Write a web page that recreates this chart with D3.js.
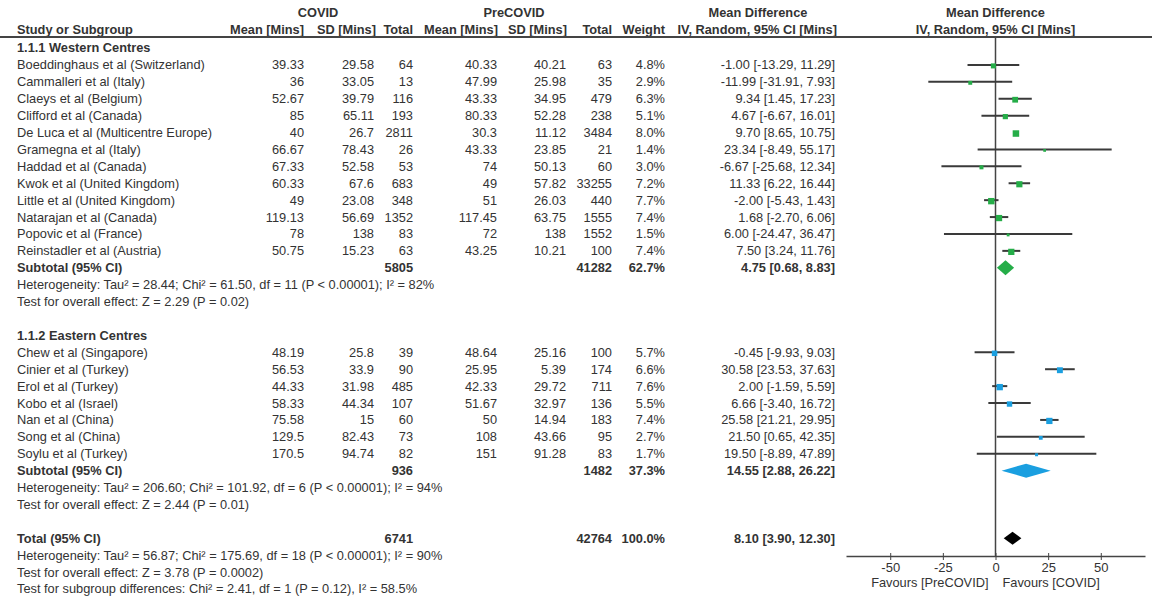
<!DOCTYPE html>
<html>
<head>
<meta charset="utf-8">
<script src="https://cdn.jsdelivr.net/npm/d3@7"></script>
<style>
  body { margin: 0; background: #fff; }
  svg { display: block; font-family: "Liberation Sans", Arial, sans-serif; }
  text { fill: #333; font-size: 12.8px; }
  .bold { font-weight: bold; }
</style>
</head>
<body>
<div id="forest"></div>
<script>
// study rows: name, covid mean, sd, n, precovid mean, sd, n, weight %, md, lo, hi
const westernRows = [
  ["Boeddinghaus et al (Switzerland)", 39.33, 29.58, 64, 40.33, 40.21, 63, 4.8, -1.00, -13.29, 11.29],
  ["Cammalleri et al (Italy)", 36, 33.05, 13, 47.99, 25.98, 35, 2.9, -11.99, -31.91, 7.93],
  ["Claeys et al (Belgium)", 52.67, 39.79, 116, 43.33, 34.95, 479, 6.3, 9.34, 1.45, 17.23],
  ["Clifford et al (Canada)", 85, 65.11, 193, 80.33, 52.28, 238, 5.1, 4.67, -6.67, 16.01],
  ["De Luca et al (Multicentre Europe)", 40, 26.7, 2811, 30.3, 11.12, 3484, 8.0, 9.70, 8.65, 10.75],
  ["Gramegna et al (Italy)", 66.67, 78.43, 26, 43.33, 23.85, 21, 1.4, 23.34, -8.49, 55.17],
  ["Haddad et al (Canada)", 67.33, 52.58, 53, 74, 50.13, 60, 3.0, -6.67, -25.68, 12.34],
  ["Kwok et al (United Kingdom)", 60.33, 67.6, 683, 49, 57.82, 33255, 7.2, 11.33, 6.22, 16.44],
  ["Little et al (United Kingdom)", 49, 23.08, 348, 51, 26.03, 440, 7.7, -2.00, -5.43, 1.43],
  ["Natarajan et al (Canada)", 119.13, 56.69, 1352, 117.45, 63.75, 1555, 7.4, 1.68, -2.70, 6.06],
  ["Popovic et al (France)", 78, 138, 83, 72, 138, 1552, 1.5, 6.00, -24.47, 36.47],
  ["Reinstadler et al (Austria)", 50.75, 15.23, 63, 43.25, 10.21, 100, 7.4, 7.50, 3.24, 11.76]
];
const easternRows = [
  ["Chew et al (Singapore)", 48.19, 25.8, 39, 48.64, 25.16, 100, 5.7, -0.45, -9.93, 9.03],
  ["Cinier et al (Turkey)", 56.53, 33.9, 90, 25.95, 5.39, 174, 6.6, 30.58, 23.53, 37.63],
  ["Erol et al (Turkey)", 44.33, 31.98, 485, 42.33, 29.72, 711, 7.6, 2.00, -1.59, 5.59],
  ["Kobo et al (Israel)", 58.33, 44.34, 107, 51.67, 32.97, 136, 5.5, 6.66, -3.40, 16.72],
  ["Nan et al (China)", 75.58, 15, 60, 50, 14.94, 183, 7.4, 25.58, 21.21, 29.95],
  ["Song et al (China)", 129.5, 82.43, 73, 108, 43.66, 95, 2.7, 21.50, 0.65, 42.35],
  ["Soylu et al (Turkey)", 170.5, 94.74, 82, 151, 91.28, 83, 1.7, 19.50, -8.89, 47.89]
];
// pooled rows: covid n, precovid n, weight %, md, lo, hi
const westernSubtotal = [5805, 41282, 62.7, 4.75, 0.68, 8.83];
const easternSubtotal = [936, 1482, 37.3, 14.55, 2.88, 26.22];
const overallTotal = [6741, 42764, 100.0, 8.10, 3.90, 12.30];

const westernNotes = [
  "Heterogeneity: Tau\u00b2 = 28.44; Chi\u00b2 = 61.50, df = 11 (P < 0.00001); I\u00b2 = 82%",
  "Test for overall effect: Z = 2.29 (P = 0.02)"
];
const easternNotes = [
  "Heterogeneity: Tau\u00b2 = 206.60; Chi\u00b2 = 101.92, df = 6 (P < 0.00001); I\u00b2 = 94%",
  "Test for overall effect: Z = 2.44 (P = 0.01)"
];
const totalNotes = [
  "Heterogeneity: Tau\u00b2 = 56.87; Chi\u00b2 = 175.69, df = 18 (P < 0.00001); I\u00b2 = 90%",
  "Test for overall effect: Z = 3.78 (P = 0.0002)",
  "Test for subgroup differences: Chi\u00b2 = 2.41, df = 1 (P = 0.12), I\u00b2 = 58.5%"
];
const axisTicks = [-50, -25, 0, 25, 50];

const svgWidth = 1152;
const svgHeight = 603;

let svg = d3.select("#forest").append("svg")
  .attr("width", svgWidth)
  .attr("height", svgHeight);

// scales
let x = d3.scaleLinear().domain([-71, 71]).range([846, 1145]);
let rowY = d3.scaleLinear().domain([0, 32]).range([48, 589]);
let boxSize = d3.scaleSqrt().domain([0, 8]).range([0, 6.5]);

// column right edges
let col = { name: 17, cMean: 304, cSD: 374, cN: 413, pMean: 497, pSD: 566, pN: 612, w: 665, md: 835 };

function txt(g, xPos, yPos, str, anchor, bold) {
  return g.append("text")
    .attr("x", xPos)
    .attr("y", yPos)
    .attr("dy", "0.35em")
    .attr("text-anchor", anchor || "start")
    .classed("bold", !!bold)
    .text(str);
}

// headers
let head = svg.append("g");
txt(head, 318, 13, "COVID", "middle", true);
txt(head, 514, 13, "PreCOVID", "middle", true);
txt(head, 758, 13, "Mean Difference", "middle", true);
txt(head, x(0), 13, "Mean Difference", "middle", true);
txt(head, col.name, 30, "Study or Subgroup", "start", true);
txt(head, col.cMean, 30, "Mean [Mins]", "end", true);
txt(head, col.cSD + 2, 30, "SD [Mins]", "end", true);
txt(head, col.cN, 30, "Total", "end", true);
txt(head, col.pMean + 1, 30, "Mean [Mins]", "end", true);
txt(head, col.pSD + 1, 30, "SD [Mins]", "end", true);
txt(head, col.pN, 30, "Total", "end", true);
txt(head, col.w, 30, "Weight", "end", true);
txt(head, col.md + 2, 30, "IV, Random, 95% CI [Mins]", "end", true);
txt(head, x(0), 30, "IV, Random, 95% CI [Mins]", "middle", true);

svg.append("line")
  .attr("x1", 0).attr("x2", svgWidth)
  .attr("y1", 37).attr("y2", 37)
  .attr("stroke", "#444").attr("stroke-width", 2);

// zero line
svg.append("line")
  .attr("x1", x(0)).attr("x2", x(0))
  .attr("y1", 38).attr("y2", 556)
  .attr("stroke", "#444").attr("stroke-width", 1.5);

let table = svg.append("g");
let plot = svg.append("g");

function drawStudies(rows, startRow, colour) {
  rows.forEach(function(d, i) {
    let yy = rowY(startRow + i);
    txt(table, col.name, yy, d[0]);
    txt(table, col.cMean, yy, d[1], "end");
    txt(table, col.cSD, yy, d[2], "end");
    txt(table, col.cN, yy, d[3], "end");
    txt(table, col.pMean, yy, d[4], "end");
    txt(table, col.pSD, yy, d[5], "end");
    txt(table, col.pN, yy, d[6], "end");
    txt(table, col.w, yy, d[7].toFixed(1) + "%", "end");
    txt(table, col.md, yy, d[8].toFixed(2) + " [" + d[9].toFixed(2) + ", " + d[10].toFixed(2) + "]", "end");

    plot.append("line")
      .attr("x1", x(d[9])).attr("x2", x(d[10]))
      .attr("y1", yy).attr("y2", yy)
      .attr("stroke", "#3a3a3a").attr("stroke-width", 2);
    let s = boxSize(d[7]);
    plot.append("rect")
      .attr("x", x(d[8]) - s / 2)
      .attr("y", yy - s / 2 + 1)
      .attr("width", s).attr("height", s)
      .attr("fill", colour);
  });
}

function drawPooled(d, rowIdx, label, colour, h) {
  let yy = rowY(rowIdx);
  txt(table, col.name, yy, label, "start", true);
  txt(table, col.cN, yy, d[0], "end", true);
  txt(table, col.pN, yy, d[1], "end", true);
  txt(table, col.w, yy, d[2].toFixed(1) + "%", "end", true);
  txt(table, col.md, yy, d[3].toFixed(2) + " [" + d[4].toFixed(2) + ", " + d[5].toFixed(2) + "]", "end", true);
  let pts = [[x(d[4]), yy], [x(d[3]), yy - h / 2], [x(d[5]), yy], [x(d[3]), yy + h / 2]];
  plot.append("path")
    .attr("d", d3.line()(pts) + "Z")
    .attr("fill", colour);
}

function drawNotes(notes, startRow) {
  notes.forEach(function(n, i) {
    txt(table, col.name, rowY(startRow + i), n);
  });
}

// Western
txt(table, col.name, rowY(0), "1.1.1 Western Centres", "start", true);
drawStudies(westernRows, 1, "#25ad48");
drawPooled(westernSubtotal, 13, "Subtotal (95% CI)", "#25ad48", 15);
drawNotes(westernNotes, 14);

// Eastern
txt(table, col.name, rowY(17), "1.1.2 Eastern Centres", "start", true);
drawStudies(easternRows, 18, "#1a9fe0");
drawPooled(easternSubtotal, 25, "Subtotal (95% CI)", "#1a9fe0", 14);
drawNotes(easternNotes, 26);

// Total
drawPooled(overallTotal, 29, "Total (95% CI)", "#000", 13);
drawNotes(totalNotes, 30);

// axis
let axisG = svg.append("g")
  .attr("transform", "translate(0,556)")
  .call(d3.axisBottom(x).tickValues(axisTicks).tickFormat(d => String(d)).tickSize(4).tickSizeOuter(0));
axisG.select(".domain").attr("stroke", "#444").attr("stroke-width", 1.5);
axisG.selectAll(".tick line").attr("stroke", "#444").attr("y1", -3).attr("y2", 4);
axisG.selectAll(".tick text")
  .attr("y", 7)
  .style("font-size", "13px")
  .style("font-family", "Liberation Sans, Arial, sans-serif")
  .attr("fill", "#333");

txt(svg, x(0) - 7, 583, "Favours [PreCOVID]", "end");
txt(svg, x(0) + 7, 583, "Favours [COVID]", "start");
</script>
</body>
</html>
